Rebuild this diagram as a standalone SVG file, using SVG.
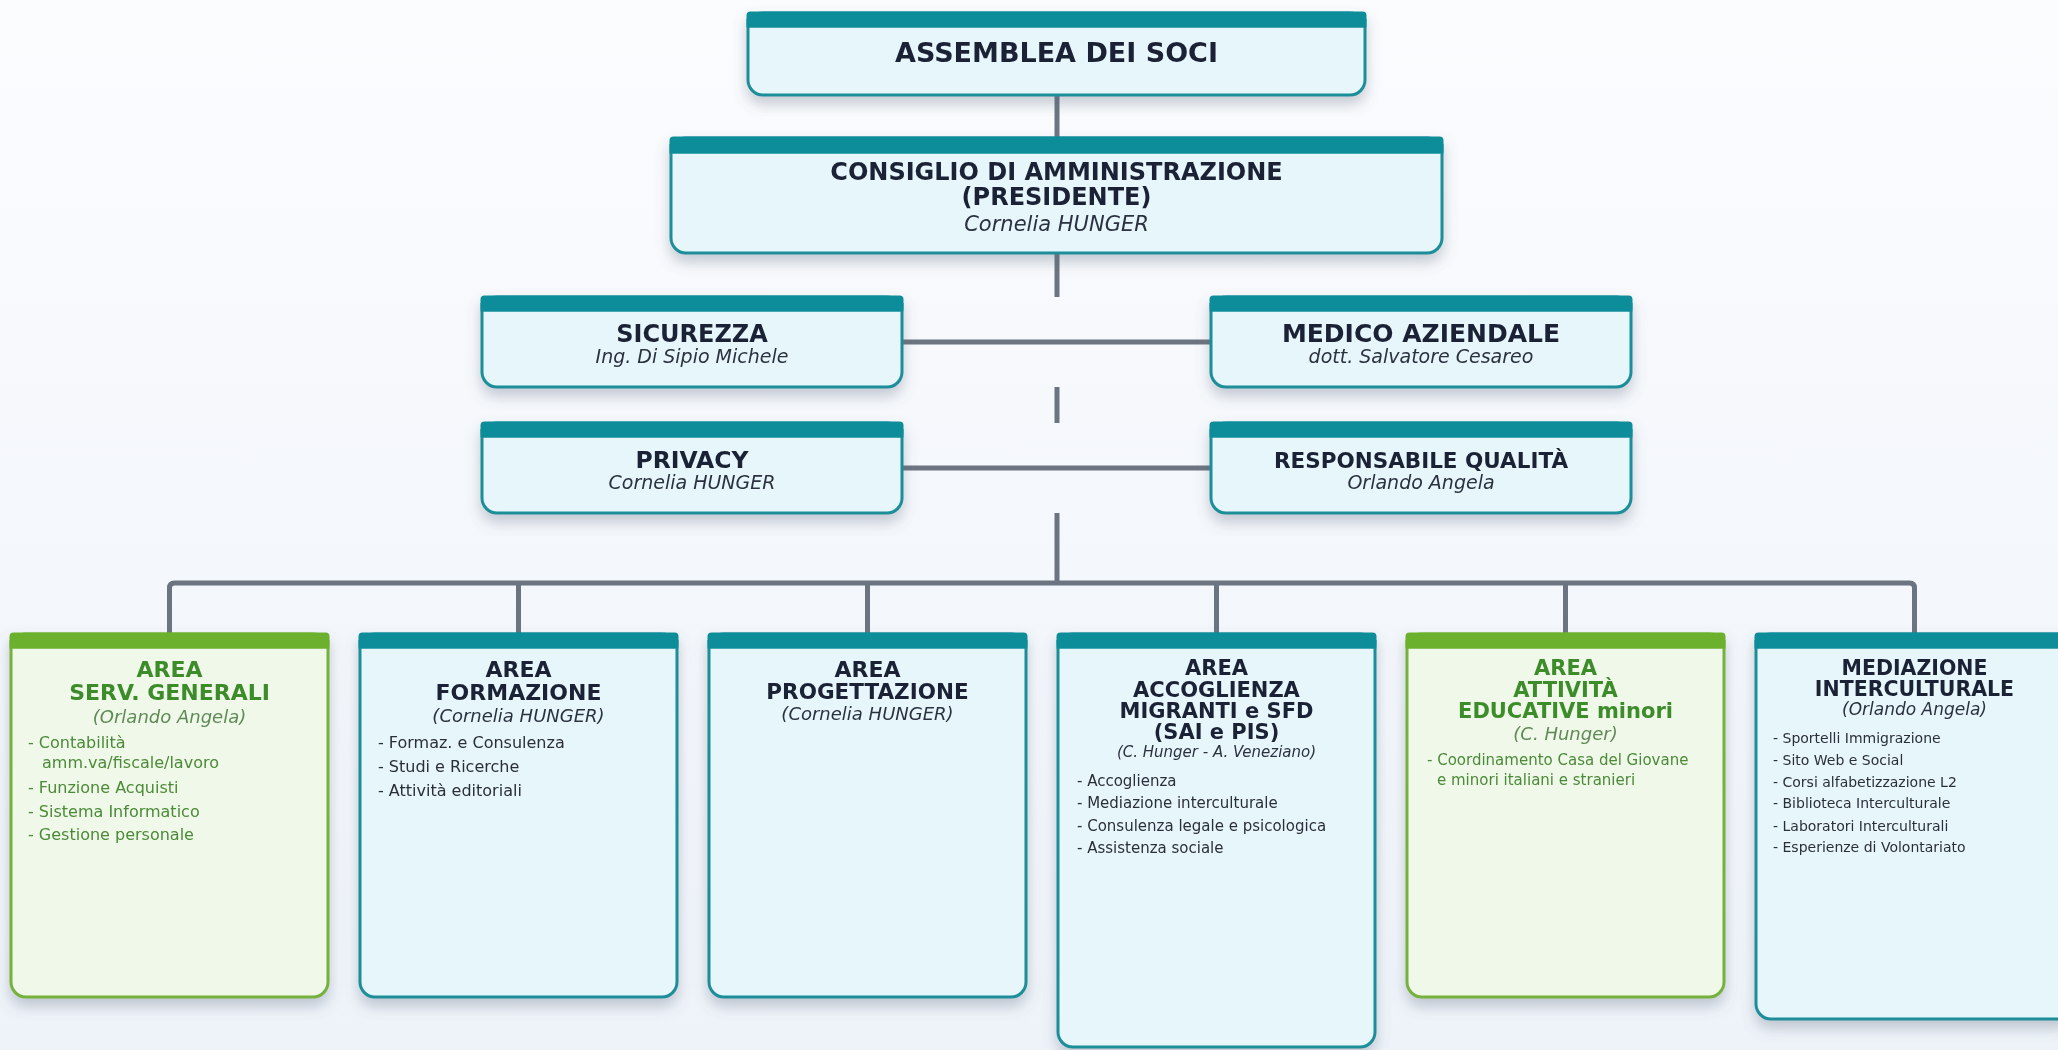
<svg xmlns="http://www.w3.org/2000/svg" width="2058" height="1050" viewBox="0 0 2058 1050">
<style>
.bg{fill:url(#bgg)}
.tb{fill:#e6f6fb;stroke:#1a8e9a;stroke-width:3}
.th{fill:#0f8d9a}
.gb{fill:#eff8e9;stroke:#74b13a;stroke-width:3}
.gh{fill:#6cb12d}
.ln{stroke:#6b7480;stroke-width:5;fill:none;stroke-linejoin:round}
text{font-family:"DejaVu Sans","Noto Sans",sans-serif}
.c{text-anchor:middle}
.b{font-weight:bold;fill:#1a2236}
.i{font-style:italic;fill:#2b3140}
.gt{font-weight:bold;fill:#3e8c2c}
.gi{font-style:italic;fill:#5f8a55}
.it{fill:#2b2f38}
.git{fill:#4b8a37}
</style>
<defs>
<linearGradient id="bgg" x1="0" y1="0" x2="0" y2="1">
<stop offset="0" stop-color="#fbfcfe"/>
<stop offset="1" stop-color="#eef3f9"/>
</linearGradient>
<filter id="sh" x="-10%" y="-10%" width="120%" height="135%">
<feDropShadow dx="0" dy="8" stdDeviation="7" flood-color="#56657a" flood-opacity="0.32"/>
</filter>
</defs>
<rect class="bg" x="0" y="0" width="2058" height="1050"/>

<g id="connectors">
<line class="ln" x1="1057" y1="95" x2="1057" y2="138"/>
<line class="ln" x1="1057" y1="253" x2="1057" y2="297"/>
<line class="ln" x1="1057" y1="387" x2="1057" y2="423"/>
<line class="ln" x1="1057" y1="513" x2="1057" y2="583"/>
<line class="ln" x1="902" y1="342" x2="1211" y2="342"/>
<line class="ln" x1="902" y1="468" x2="1211" y2="468"/>
<path class="ln" d="M169.5,634 V588 Q169.5,583 174.5,583 H1909.5 Q1914.5,583 1914.5,588 V634"/>
<line class="ln" x1="518.5" y1="583" x2="518.5" y2="634"/>
<line class="ln" x1="867.5" y1="583" x2="867.5" y2="634"/>
<line class="ln" x1="1216.5" y1="583" x2="1216.5" y2="634"/>
<line class="ln" x1="1565.5" y1="583" x2="1565.5" y2="634"/>
</g>

<g id="assemblea" filter="url(#sh)">
<rect class="tb" x="748" y="13" width="617" height="82" rx="15"/>
<rect class="th" x="746.5" y="11.5" width="620" height="16" rx="4"/>
<rect class="th" x="746.5" y="19" width="620" height="8.5"/>
<text class="c b" x="1056.5" y="62" font-size="27">ASSEMBLEA DEI SOCI</text>
</g>

<g id="consiglio" filter="url(#sh)">
<rect class="tb" x="671" y="138" width="771" height="115" rx="15"/>
<rect class="th" x="669.5" y="136.5" width="774" height="17" rx="4"/>
<rect class="th" x="669.5" y="144" width="774" height="9.5"/>
<text class="c b" x="1056.5" y="180" font-size="24">CONSIGLIO DI AMMINISTRAZIONE</text>
<text class="c b" x="1056.5" y="205" font-size="24">(PRESIDENTE)</text>
<text class="c i" x="1056.5" y="231" font-size="21">Cornelia HUNGER</text>
</g>

<g id="sicurezza" filter="url(#sh)">
<rect class="tb" x="482" y="297" width="420" height="90" rx="15"/>
<rect class="th" x="480.5" y="295.5" width="423" height="16" rx="4"/>
<rect class="th" x="480.5" y="303" width="423" height="8.5"/>
<text class="c b" x="692" y="342" font-size="24">SICUREZZA</text>
<text class="c i" x="692" y="363" font-size="19">Ing. Di Sipio Michele</text>
</g>

<g id="medico" filter="url(#sh)">
<rect class="tb" x="1211" y="297" width="420" height="90" rx="15"/>
<rect class="th" x="1209.5" y="295.5" width="423" height="16" rx="4"/>
<rect class="th" x="1209.5" y="303" width="423" height="8.5"/>
<text class="c b" x="1421" y="342" font-size="25">MEDICO AZIENDALE</text>
<text class="c i" x="1421" y="363" font-size="19">dott. Salvatore Cesareo</text>
</g>

<g id="privacy" filter="url(#sh)">
<rect class="tb" x="482" y="423" width="420" height="90" rx="15"/>
<rect class="th" x="480.5" y="421.5" width="423" height="16" rx="4"/>
<rect class="th" x="480.5" y="429" width="423" height="8.5"/>
<text class="c b" x="692" y="468" font-size="23.5">PRIVACY</text>
<text class="c i" x="692" y="489" font-size="19">Cornelia HUNGER</text>
</g>

<g id="qualita" filter="url(#sh)">
<rect class="tb" x="1211" y="423" width="420" height="90" rx="15"/>
<rect class="th" x="1209.5" y="421.5" width="423" height="16" rx="4"/>
<rect class="th" x="1209.5" y="429" width="423" height="8.5"/>
<text class="c b" x="1421" y="468" font-size="21.5">RESPONSABILE QUALITÀ</text>
<text class="c i" x="1421" y="489" font-size="19">Orlando Angela</text>
</g>

<g id="area-serv-generali" filter="url(#sh)">
<rect class="gb" x="11" y="634" width="317" height="363" rx="15"/>
<rect class="gh" x="9.5" y="632.5" width="320" height="16" rx="4"/>
<rect class="gh" x="9.5" y="640" width="320" height="8.5"/>
<text class="c gt" x="169.5" y="677" font-size="22">AREA</text>
<text class="c gt" x="169.5" y="700" font-size="22">SERV. GENERALI</text>
<text class="c gi" x="169.5" y="723" font-size="18">(Orlando Angela)</text>
<text class="git" x="28" y="748" font-size="16">- Contabilità</text>
<text class="git" x="42" y="768" font-size="16">amm.va/fiscale/lavoro</text>
<text class="git" x="28" y="793" font-size="16">- Funzione Acquisti</text>
<text class="git" x="28" y="817" font-size="16">- Sistema Informatico</text>
<text class="git" x="28" y="840" font-size="16">- Gestione personale</text>
</g>

<g id="area-formazione" filter="url(#sh)">
<rect class="tb" x="360" y="634" width="317" height="363" rx="15"/>
<rect class="th" x="358.5" y="632.5" width="320" height="16" rx="4"/>
<rect class="th" x="358.5" y="640" width="320" height="8.5"/>
<text class="c b" x="518.5" y="677" font-size="22">AREA</text>
<text class="c b" x="518.5" y="700" font-size="22">FORMAZIONE</text>
<text class="c i" x="518.5" y="722" font-size="18">(Cornelia HUNGER)</text>
<text class="it" x="378" y="748" font-size="16">- Formaz. e Consulenza</text>
<text class="it" x="378" y="772" font-size="16">- Studi e Ricerche</text>
<text class="it" x="378" y="796" font-size="16">- Attività editoriali</text>
</g>

<g id="area-progettazione" filter="url(#sh)">
<rect class="tb" x="709" y="634" width="317" height="363" rx="15"/>
<rect class="th" x="707.5" y="632.5" width="320" height="16" rx="4"/>
<rect class="th" x="707.5" y="640" width="320" height="8.5"/>
<text class="c b" x="867.5" y="677" font-size="22">AREA</text>
<text class="c b" x="867.5" y="699" font-size="21.5">PROGETTAZIONE</text>
<text class="c i" x="867.5" y="720" font-size="18">(Cornelia HUNGER)</text>
</g>

<g id="area-accoglienza" filter="url(#sh)">
<rect class="tb" x="1058" y="634" width="317" height="413" rx="15"/>
<rect class="th" x="1056.5" y="632.5" width="320" height="16" rx="4"/>
<rect class="th" x="1056.5" y="640" width="320" height="8.5"/>
<text class="c b" x="1216.5" y="675" font-size="21">AREA</text>
<text class="c b" x="1216.5" y="697" font-size="21">ACCOGLIENZA</text>
<text class="c b" x="1216.5" y="718" font-size="21">MIGRANTI e SFD</text>
<text class="c b" x="1216.5" y="739" font-size="21">(SAI e PIS)</text>
<text class="c i" x="1216.5" y="757" font-size="15">(C. Hunger - A. Veneziano)</text>
<text class="it" x="1077" y="786" font-size="15">- Accoglienza</text>
<text class="it" x="1077" y="808" font-size="15">- Mediazione interculturale</text>
<text class="it" x="1077" y="831" font-size="15">- Consulenza legale e psicologica</text>
<text class="it" x="1077" y="853" font-size="15">- Assistenza sociale</text>
</g>

<g id="area-attivita-educative" filter="url(#sh)">
<rect class="gb" x="1407" y="634" width="317" height="363" rx="15"/>
<rect class="gh" x="1405.5" y="632.5" width="320" height="16" rx="4"/>
<rect class="gh" x="1405.5" y="640" width="320" height="8.5"/>
<text class="c gt" x="1565.5" y="675" font-size="21">AREA</text>
<text class="c gt" x="1565.5" y="697" font-size="21">ATTIVITÀ</text>
<text class="c gt" x="1565.5" y="718" font-size="21">EDUCATIVE minori</text>
<text class="c gi" x="1565.5" y="740" font-size="18">(C. Hunger)</text>
<text class="git" x="1427" y="765" font-size="15">- Coordinamento Casa del Giovane</text>
<text class="git" x="1437" y="785" font-size="15">e minori italiani e stranieri</text>
</g>

<g id="mediazione-interculturale" filter="url(#sh)">
<rect class="tb" x="1756" y="634" width="317" height="385" rx="15"/>
<rect class="th" x="1754.5" y="632.5" width="320" height="16" rx="4"/>
<rect class="th" x="1754.5" y="640" width="320" height="8.5"/>
<text class="c b" x="1914.5" y="675" font-size="20.5">MEDIAZIONE</text>
<text class="c b" x="1914.5" y="696" font-size="20.5">INTERCULTURALE</text>
<text class="c i" x="1914.5" y="715" font-size="17">(Orlando Angela)</text>
<text class="it" x="1773" y="743" font-size="14">- Sportelli Immigrazione</text>
<text class="it" x="1773" y="765" font-size="14">- Sito Web e Social</text>
<text class="it" x="1773" y="787" font-size="14">- Corsi alfabetizzazione L2</text>
<text class="it" x="1773" y="808" font-size="14">- Biblioteca Interculturale</text>
<text class="it" x="1773" y="831" font-size="14">- Laboratori Interculturali</text>
<text class="it" x="1773" y="852" font-size="14">- Esperienze di Volontariato</text>
</g>
</svg>
